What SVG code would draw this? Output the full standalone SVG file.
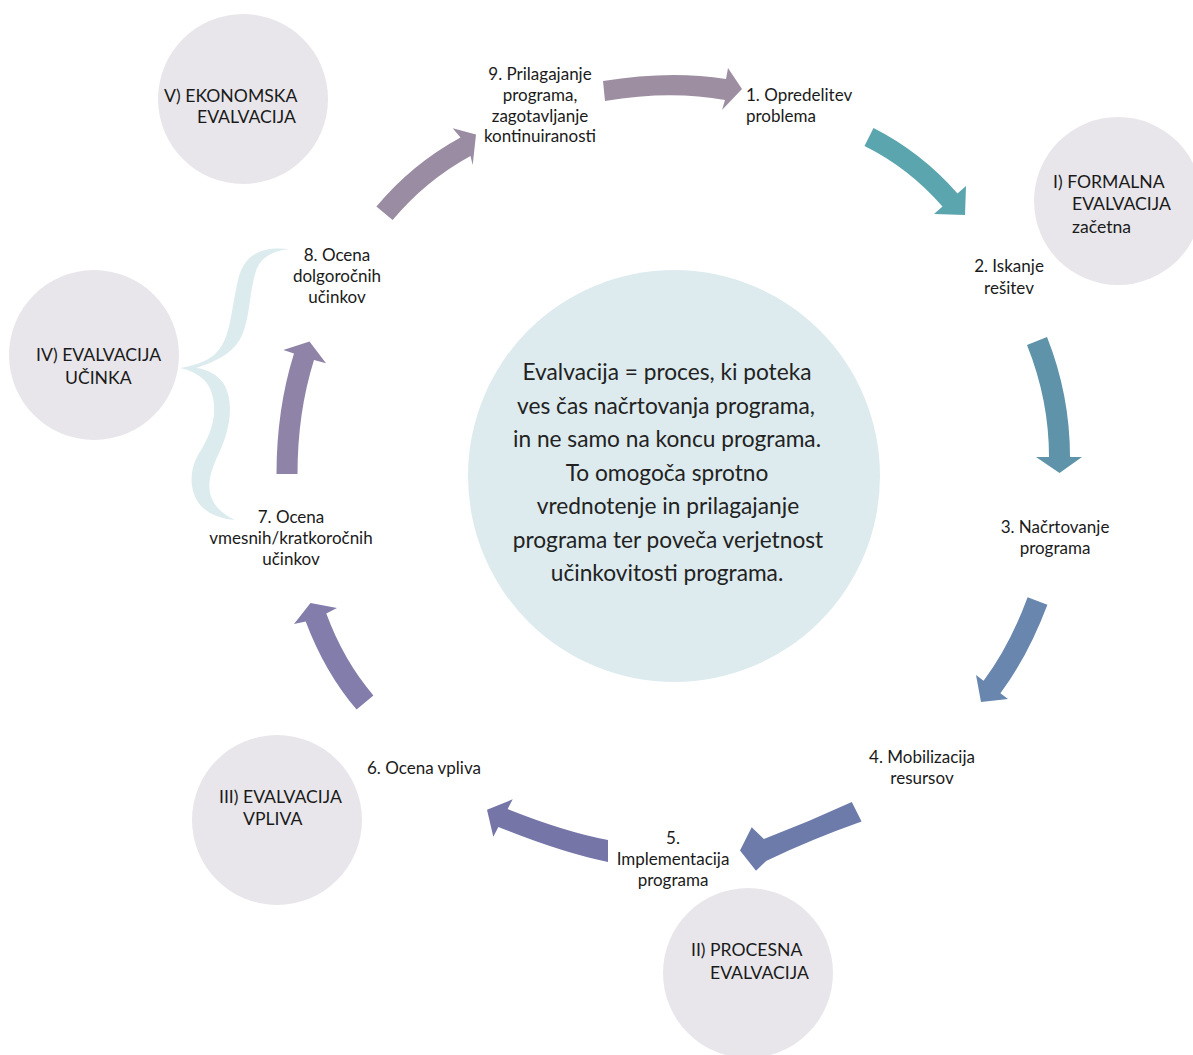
<svg xmlns="http://www.w3.org/2000/svg" width="1193" height="1055" viewBox="0 0 1193 1055">
<style>
.t{font-family:Lato,"Liberation Sans",sans-serif;font-size:17px;fill:#1a1a1a}
.k{font-size:17.6px}
.m{text-anchor:middle}
.c{font-family:Lato,"Liberation Sans",sans-serif;font-size:22.7px;fill:#222222;text-anchor:middle}
.gc{fill:#E8E6EA}
</style>
<rect width="1193" height="1055" fill="#ffffff"/>
<g id="center"><circle cx="674" cy="476" r="206" fill="#DDEBEE"/>
<text class="c" x="667" y="380">Evalvacija = proces, ki poteka</text>
<text class="c" x="666" y="414">ves čas načrtovanja programa,</text>
<text class="c" x="667" y="447">in ne samo na koncu programa.</text>
<text class="c" x="667" y="481">To omogoča sprotno</text>
<text class="c" x="668" y="514">vrednotenje in prilagajanje</text>
<text class="c" x="668" y="548">programa ter poveča verjetnost</text>
<text class="c" x="667" y="581">učinkovitosti programa.</text>
</g>
<g id="evalV"><circle class="gc" cx="243" cy="99" r="85"/>
<text class="t k" x="164" y="102">V) EKONOMSKA</text><text class="t k" x="197" y="123">EVALVACIJA</text></g>
<g id="evalI"><circle class="gc" cx="1118" cy="201" r="84"/>
<text class="t k" x="1053" y="188">I) FORMALNA</text><text class="t k" x="1072" y="210">EVALVACIJA</text><text class="t k" x="1072" y="233">začetna</text></g>
<g id="evalIV"><circle class="gc" cx="94" cy="355" r="85"/>
<text class="t k" x="36" y="361">IV) EVALVACIJA</text><text class="t k" x="65" y="384">UČINKA</text></g>
<g id="evalIII"><circle class="gc" cx="277" cy="820" r="85"/>
<text class="t k" x="219" y="803">III) EVALVACIJA</text><text class="t k" x="243" y="825">VPLIVA</text></g>
<g id="evalII"><circle class="gc" cx="748" cy="973" r="85"/>
<text class="t k" x="691" y="956">II) PROCESNA</text><text class="t k" x="710" y="979">EVALVACIJA</text></g>
<g id="brace"><path fill="#DCEBEE" d="M 289 249 C 262 246 244 254 238 280 C 230 315 231 340 214 355 C 204 363 192 366 180 368 C 195 371 207 379 211 391 C 219 413 211 435 198 455 C 188 473 190 493 201 506 C 209 514 221 519 235 520 C 224 515 216 508 212 499 C 206 485 211 470 219 453 C 230 430 234 404 225 386 C 219 375 207 369 196 368 C 217 361 235 353 243 333 C 251 311 249 290 257 268 C 264 255 274 251 289 249 Z"/></g>
<g id="connectors">
<path fill="#9D8FA1" d="M 603 81 Q 670 70 726 79 L 728 68 L 742 89 L 722 110 L 725 100 Q 670 90 605 101 Z"/>
<path fill="#5BA5AE" d="M 873.5 128 Q 921 152 957.5 193.4 L 966 186 L 965 215 L 934 214 L 942.5 206.6 Q 909 168 864.5 146 Z"/>
<path fill="#5E93AA" d="M 1047 337 Q 1070 395 1070 457 L 1082 457 L 1059.5 473 L 1036 457 L 1049 457 Q 1049 400 1027 345 Z"/>
<path fill="#6886AE" d="M 1027.6 597.3 Q 1009.6 646.2 983.6 680.7 L 976 675 L 981 702 L 1008 699 L 1000.4 693.3 Q 1028 656.2 1047.4 604.7 Z"/>
<path fill="#6C7BAA" d="M 851.8 801.9 Q 808 822 763.9 839.1 L 751.7 827.3 L 740 850.4 L 756 870.7 L 766.1 860.9 Q 812 839 861.6 821.5 Z"/>
<path fill="#7575A8" d="M 608 840 Q 565 832 507.6 809.1 L 512.7 799.3 L 487 809.7 L 493.3 836.7 L 498.4 826.9 Q 560 852 608 862 Z"/>
<path fill="#827DAB" d="M 356.6 709.6 Q 324.8 672.2 305.7 621.4 L 294 624 L 310.5 603 L 337 608 L 326.3 613.6 Q 343.8 661 373.4 695.4 Z"/>
<path fill="#8F84A8" d="M 276.5 474 Q 276.5 409.2 294 353.5 L 283.3 350 L 309.5 341.5 L 326 363.3 L 314 359.9 Q 297.5 412.4 297.5 474 Z"/>
<path fill="#9A8CA3" d="M 376.4 206.6 Q 411.7 164.1 460.5 137.5 L 452.7 128.3 L 476 134.5 L 472.7 165 L 470.5 155.9 Q 425.5 180.5 392.6 220 Z"/>
</g>
<g id="step9"><text class="t m" x="540" y="80">9. Prilagajanje</text><text class="t m" x="540" y="101">programa,</text><text class="t m" x="540" y="122">zagotavljanje</text><text class="t m" x="540" y="142">kontinuiranosti</text></g>
<g id="step1"><text class="t" x="746" y="101">1. Opredelitev</text><text class="t" x="746" y="122">problema</text></g>
<g id="step2"><text class="t m" x="1009" y="272">2. Iskanje</text><text class="t m" x="1009" y="294">rešitev</text></g>
<g id="step3"><text class="t m" x="1055" y="533">3. Načrtovanje</text><text class="t m" x="1055" y="554">programa</text></g>
<g id="step4"><text class="t m" x="922" y="763">4. Mobilizacija</text><text class="t m" x="922" y="784">resursov</text></g>
<g id="step5"><text class="t m" x="673" y="844">5.</text><text class="t m" x="673" y="865">Implementacija</text><text class="t m" x="673" y="886">programa</text></g>
<g id="step6"><text class="t m" x="424" y="774">6. Ocena vpliva</text></g>
<g id="step7"><text class="t m" x="291" y="523">7. Ocena</text><text class="t m" x="291" y="544">vmesnih/kratkoročnih</text><text class="t m" x="291" y="565">učinkov</text></g>
<g id="step8"><text class="t m" x="337" y="261">8. Ocena</text><text class="t m" x="337" y="282">dolgoročnih</text><text class="t m" x="337" y="303">učinkov</text></g>
</svg>
